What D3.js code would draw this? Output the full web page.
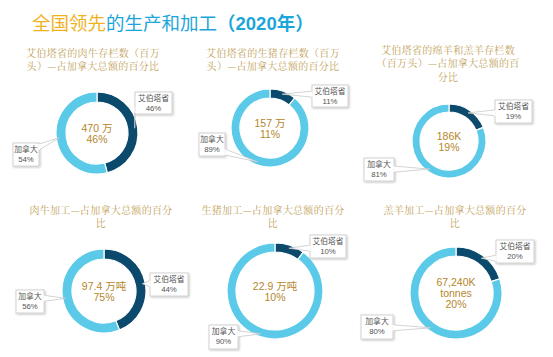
<!DOCTYPE html>
<html><head><meta charset="utf-8">
<script src="https://cdn.jsdelivr.net/npm/d3@7"></script>
<style>
html,body{margin:0;padding:0;background:#fff;}
svg{display:block;}
</style></head>
<body>
<svg id="chart" width="553" height="357"></svg>
<script>
// ---------- data ----------
const categories = ["艾伯塔省", "加拿大"];
const chartTitles = [
  ["艾伯塔省的肉牛存栏数（百万", "头）—占加拿大总额的百分比"],
  ["艾伯塔省的生猪存栏数（百万", "头）—占加拿大总额的百分比"],
  ["艾伯塔省的绵羊和羔羊存栏数", "（百万头）—占加拿大总额的百", "分比"],
  ["肉牛加工—占加拿大总额的百分", "比"],
  ["生猪加工—占加拿大总额的百分", "比"],
  ["羔羊加工—占加拿大总额的百分", "比"]
];
const albertaShare = [46, 11, 19, 44, 10, 20];
const canadaShare  = [54, 89, 81, 56, 90, 80];
const centerLabels = [
  ["470 万", "46%"],
  ["157 万", "11%"],
  ["186K", "19%"],
  ["97.4 万吨", "75%"],
  ["22.9 万吨", "10%"],
  ["67,240K", "tonnes", "20%"]
];
const mainTitleLead = "全国领先";
const mainTitleRest = "的生产和加工";
const mainTitleYear = "（2020年）";

// ---------- layout (positions / sizes) ----------
const layout = [
  {cx: 97,  cy: 133, R: 41, w: 10, tx: 93,  ty: 53, box: [[135, 92, 37, 22], [13, 143, 26, 23]]},
  {cx: 270, cy: 128, R: 39, w: 9,  tx: 273, ty: 53, box: [[312, 85, 36, 22], [199, 133, 26, 23]]},
  {cx: 449, cy: 141, R: 37, w: 8,  tx: 448, ty: 50, box: [[495, 100, 37, 23], [364, 158, 30, 23]]},
  {cx: 104, cy: 291, R: 42, w: 10, tx: 101, ty: 210, box: [[150, 273, 38, 23], [16, 290, 28, 23]]},
  {cx: 275, cy: 291, R: 48, w: 9,  tx: 273, ty: 210, box: [[310, 235, 36, 23], [209, 325, 29, 24]]},
  {cx: 456, cy: 293, R: 46, w: 9,  tx: 455, ty: 210, box: [[496, 240, 38, 23], [361, 315, 32, 24]]}
];
const colors = ["#0b4a6d", "#5bcae8"];

const svg = d3.select("#chart");
const defs = svg.append("defs");
const f = defs.append("filter").attr("id", "sh").attr("x", "-20%").attr("y", "-20%").attr("width", "150%").attr("height", "150%");
f.append("feDropShadow").attr("dx", 1).attr("dy", 1).attr("stdDeviation", 1).attr("flood-color", "#000").attr("flood-opacity", 0.25);

// main title
const mt = svg.append("text").attr("x", 32).attr("y", 30)
  .attr("font-family", "'Noto Sans CJK SC', 'Noto Sans', sans-serif").attr("font-size", 18.5);
mt.append("tspan").attr("fill", "#f0b21c").text(mainTitleLead);
mt.append("tspan").attr("fill", "#1ba6da").text(mainTitleRest);
mt.append("tspan").attr("fill", "#1ba6da").attr("font-weight", "bold").attr("font-family", "'Liberation Sans', 'Noto Sans CJK SC', sans-serif").text(mainTitleYear);

const pie = d3.pie().sort(null).value(d => d);

layout.forEach((L, i) => {
  const g = svg.append("g");
  // title
  const t = g.append("text").attr("text-anchor", "middle")
    .attr("font-family", "'Noto Serif CJK SC', 'Noto Sans CJK SC', serif")
    .attr("font-size", 10).attr("fill", "#c29f5a").attr("letter-spacing", 0.3);
  chartTitles[i].forEach((line, k) => {
    t.append("tspan").attr("x", L.tx).attr("y", L.ty + 3.5 + k * 13.5).text(line);
  });

  const values = [albertaShare[i], canadaShare[i]];
  const arcs = pie(values);
  const arc = d3.arc().innerRadius(L.R - L.w).outerRadius(L.R);
  const dg = g.append("g").attr("transform", `translate(${L.cx},${L.cy})`);
  dg.selectAll("path").data(arcs).join("path")
    .attr("d", arc).attr("fill", (d, j) => colors[j])
    .attr("stroke", "#fff").attr("stroke-width", 1.2);

  // center label
  const cl = centerLabels[i];
  const lh = 11;
  const ct = dg.append("text").attr("text-anchor", "middle")
    .attr("font-family", "'Liberation Sans', 'Noto Sans CJK SC', sans-serif")
    .attr("font-size", 10.5).attr("fill", "#b5862c");
  cl.forEach((line, k) => {
    ct.append("tspan").attr("x", 0).attr("y", (k - (cl.length - 1) / 2) * lh + 4).text(line);
  });

  // callouts
  arcs.forEach((a, j) => {
    const [bx, by, bw, bh] = L.box[j];
    const mid = (a.startAngle + a.endAngle) / 2;
    const rr = L.R - 3;
    const px = L.cx + rr * Math.sin(mid), py = L.cy - rr * Math.cos(mid);
    let side;
    if (px > bx + bw) side = "right";
    else if (px < bx) side = "left";
    else if (py < by) side = "top";
    else side = "bottom";
    const hw = 3;
    let b1, b2;
    if (side === "right" || side === "left") {
      const ex = side === "right" ? bx + bw : bx;
      const c = Math.max(by + hw + 1, Math.min(by + bh - hw - 1, py));
      b1 = [ex, c - hw]; b2 = [ex, c + hw];
    } else {
      const ey = side === "top" ? by : by + bh;
      const c = Math.max(bx + hw + 1, Math.min(bx + bw - hw - 1, px));
      b1 = [c - hw, ey]; b2 = [c + hw, ey];
    }
    const cg = g.append("g");
    cg.append("rect").attr("x", bx).attr("y", by).attr("width", bw).attr("height", bh)
      .attr("fill", "#fff").attr("stroke", "#c9c9c9").attr("stroke-width", 0.8).attr("filter", "url(#sh)");
    cg.append("path").attr("d", `M${b1[0]},${b1[1]}L${px},${py}L${b2[0]},${b2[1]}`)
      .attr("fill", "#fff").attr("stroke", "#c9c9c9").attr("stroke-width", 0.8);
    cg.append("line").attr("x1", b1[0]).attr("y1", b1[1]).attr("x2", b2[0]).attr("y2", b2[1])
      .attr("stroke", "#fff").attr("stroke-width", 1.2);
    const lt = cg.append("text").attr("text-anchor", "middle")
      .attr("font-family", "'Noto Sans CJK SC', 'Liberation Sans', sans-serif")
      .attr("font-size", 7.8).attr("fill", "#555");
    lt.append("tspan").attr("x", bx + bw / 2).attr("y", by + 9).text(categories[j]);
    lt.append("tspan").attr("x", bx + bw / 2).attr("y", by + 19)
      .attr("font-family", "'Liberation Sans', sans-serif").text((j === 0 ? albertaShare[i] : canadaShare[i]) + "%");
  });
});
</script>
</body></html>
